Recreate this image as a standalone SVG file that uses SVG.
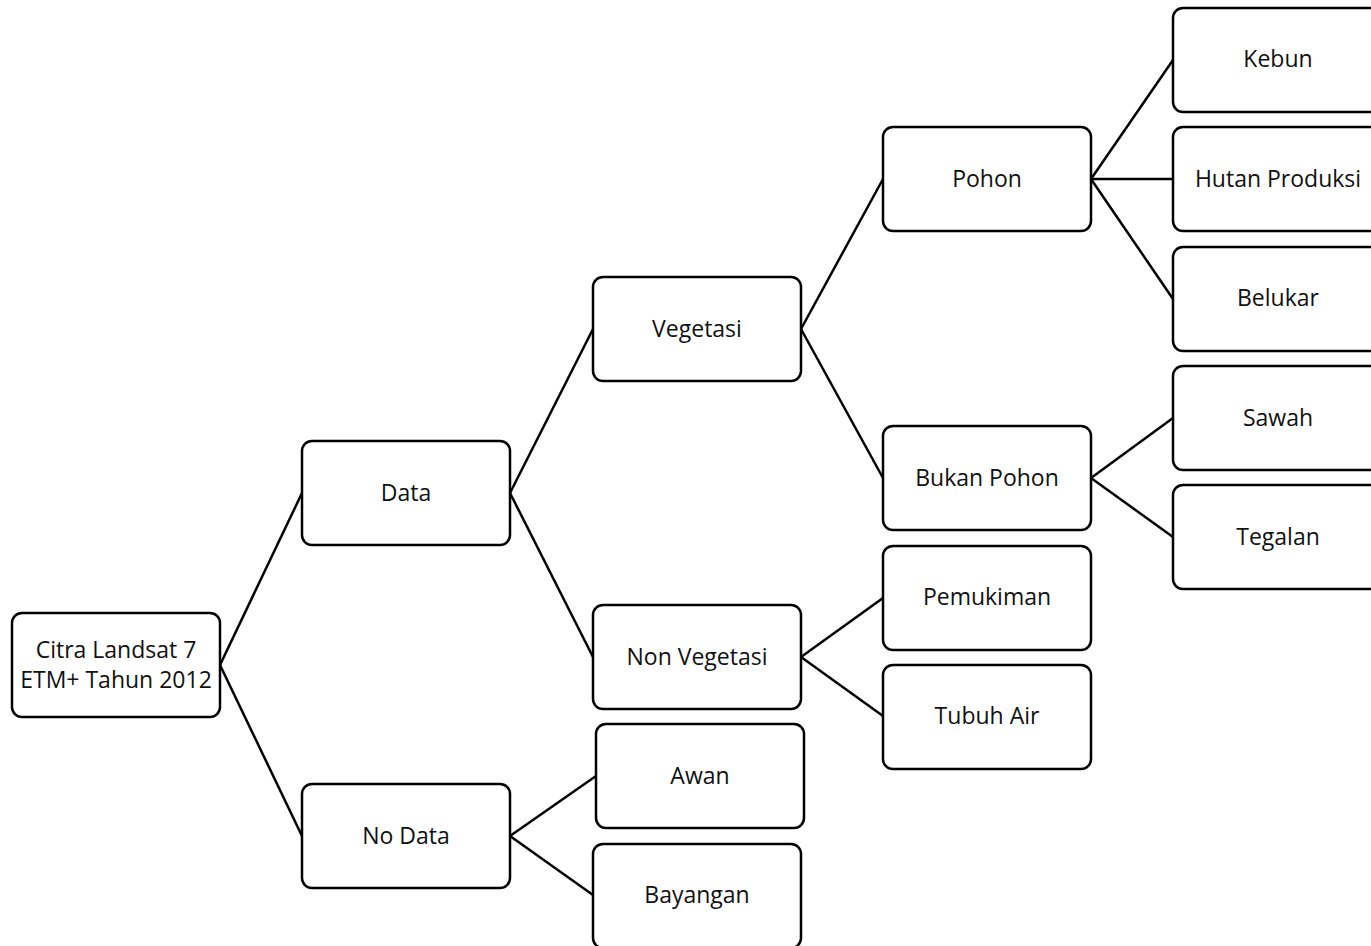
<svg xmlns="http://www.w3.org/2000/svg" width="1371" height="946" viewBox="0 0 1371 946">
<style>
rect{fill:#fff;stroke:#000;stroke-width:2.5}
text{font-family:"Open Sans","Liberation Sans",sans-serif;font-size:23px;fill:#111;text-anchor:middle}
#connectors line{stroke:#000;stroke-width:2.5}
</style>
<rect x="0" y="0" width="1371" height="946" style="stroke:none"/>
<g id="connectors">
<line x1="220" y1="665" x2="302" y2="493"/>
<line x1="220" y1="665" x2="302" y2="836"/>
<line x1="510" y1="493" x2="593" y2="329"/>
<line x1="510" y1="493" x2="593" y2="657"/>
<line x1="801" y1="329" x2="883" y2="179"/>
<line x1="801" y1="329" x2="883" y2="478"/>
<line x1="1091" y1="179" x2="1173" y2="60"/>
<line x1="1091" y1="179" x2="1173" y2="179"/>
<line x1="1091" y1="179" x2="1173" y2="299"/>
<line x1="1091" y1="478" x2="1173" y2="418"/>
<line x1="1091" y1="478" x2="1173" y2="537"/>
<line x1="801" y1="657" x2="883" y2="598"/>
<line x1="801" y1="657" x2="883" y2="716"/>
<line x1="510" y1="836" x2="596" y2="776"/>
<line x1="510" y1="836" x2="593" y2="895"/>
</g>
<g id="root"><rect x="12" y="613" width="208" height="104" rx="10"/><text x="116" y="658">Citra Landsat 7</text><text x="116" y="688">ETM+ Tahun 2012</text></g>
<g id="data"><rect x="302" y="441" width="208" height="104" rx="10"/><text x="406" y="501">Data</text></g>
<g id="nodata"><rect x="302" y="784" width="208" height="104" rx="10"/><text x="406" y="844">No Data</text></g>
<g id="vegetasi"><rect x="593" y="277" width="208" height="104" rx="10"/><text x="697" y="337">Vegetasi</text></g>
<g id="nonvegetasi"><rect x="593" y="605" width="208" height="104" rx="10"/><text x="697" y="665">Non Vegetasi</text></g>
<g id="awan"><rect x="596" y="724" width="208" height="104" rx="10"/><text x="700" y="784">Awan</text></g>
<g id="bayangan"><rect x="593" y="844" width="208" height="104" rx="10"/><text x="697" y="903">Bayangan</text></g>
<g id="pohon"><rect x="883" y="127" width="208" height="104" rx="10"/><text x="987" y="187">Pohon</text></g>
<g id="bukanpohon"><rect x="883" y="426" width="208" height="104" rx="10"/><text x="987" y="486">Bukan Pohon</text></g>
<g id="pemukiman"><rect x="883" y="546" width="208" height="104" rx="10"/><text x="987" y="605">Pemukiman</text></g>
<g id="tubuhair"><rect x="883" y="665" width="208" height="104" rx="10"/><text x="987" y="724">Tubuh Air</text></g>
<g id="kebun"><rect x="1173" y="8" width="208" height="104" rx="10"/><text x="1278" y="67">Kebun</text></g>
<g id="hutan"><rect x="1173" y="127" width="208" height="104" rx="10"/><text x="1278" y="187">Hutan Produksi</text></g>
<g id="belukar"><rect x="1173" y="247" width="208" height="104" rx="10"/><text x="1278" y="306">Belukar</text></g>
<g id="sawah"><rect x="1173" y="366" width="208" height="104" rx="10"/><text x="1278" y="426">Sawah</text></g>
<g id="tegalan"><rect x="1173" y="485" width="208" height="104" rx="10"/><text x="1278" y="545">Tegalan</text></g>
</svg>
